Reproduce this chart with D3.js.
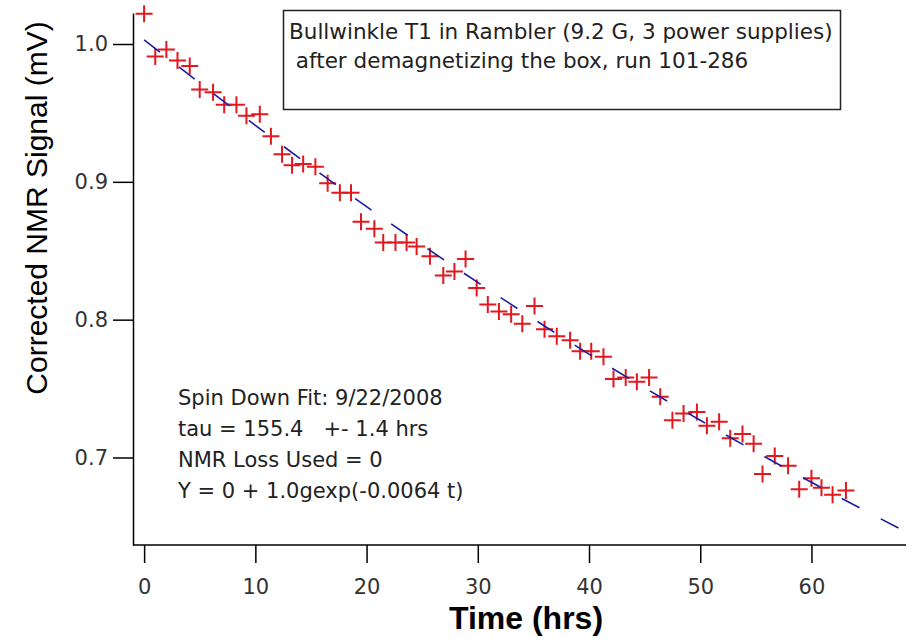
<!DOCTYPE html>
<html>
<head>
<meta charset="utf-8">
<script src="https://cdn.jsdelivr.net/npm/d3@7"></script>
<style>
  body { margin: 0; background: #fff; }
  svg { display: block; font-family: Arial, "Liberation Sans", sans-serif; }
  .axis path, .axis line { stroke: #000; stroke-width: 1.5px; }
  .axis text { font-size: 21px; fill: #333; font-family: "DejaVu Sans", sans-serif; }
  .note { font-family: "DejaVu Sans", sans-serif; fill: #222; white-space: pre; }
</style>
</head>
<body>
<div id="chart"></div>
<script>
// measured points (time in hrs, signal in mV)
var timeHrs = [0.0, 1.0, 2.0, 3.0, 4.1, 5.0, 6.2, 7.2, 8.3, 9.2,
    10.4, 11.4, 12.4, 13.3, 14.3, 15.4, 16.5, 17.6, 18.6, 19.5,
    20.7, 21.5, 22.6, 23.6, 24.5, 25.7, 26.9, 27.9, 28.9, 29.9,
    30.9, 31.9, 33.0, 34.0, 35.1, 36.0, 37.1, 38.3, 39.2, 40.2,
    41.3, 42.2, 43.3, 44.3, 45.4, 46.4, 47.5, 48.5, 49.7, 50.6,
    51.7, 52.7, 53.8, 54.8, 55.6, 56.7, 57.9, 58.9, 60.0, 60.9,
    61.9, 63.1];
var signal = [1.022, 0.991, 0.996, 0.988, 0.984, 0.967, 0.965, 0.956, 0.956, 0.948,
    0.949, 0.933, 0.920, 0.912, 0.913, 0.911, 0.899, 0.892, 0.892, 0.871,
    0.866, 0.856, 0.856, 0.856, 0.853, 0.846, 0.832, 0.835, 0.844, 0.823,
    0.811, 0.806, 0.804, 0.797, 0.810, 0.793, 0.788, 0.785, 0.777, 0.777,
    0.773, 0.757, 0.758, 0.755, 0.758, 0.744, 0.727, 0.732, 0.733, 0.723,
    0.726, 0.714, 0.717, 0.710, 0.688, 0.701, 0.694, 0.677, 0.685, 0.678,
    0.673, 0.676];

// fit curve
var fitTime = [0, 10, 20, 30, 40, 50, 60, 68.5];
var fitSignal = [1.003, 0.941, 0.882, 0.827, 0.775, 0.727, 0.682, 0.646];

var xTicks = [0, 10, 20, 30, 40, 50, 60];
var yTicks = [0.7, 0.8, 0.9, 1.0];

var titleLines = ["Bullwinkle T1 in Rambler (9.2 G, 3 power supplies)",
    " after demagnetizing the box, run 101-286"];
var fitLines = ["Spin Down Fit: 9/22/2008",
    "tau = 155.4   +- 1.4 hrs",
    "NMR Loss Used = 0",
    "Y = 0 + 1.0gexp(-0.0064 t)"];

var width = 913, height = 638;
var svg, xScale, yScale;

function createBase() {
    svg = d3.select("#chart").append("svg")
        .attr("width", width)
        .attr("height", height);
    xScale = d3.scaleLinear().domain([-1, 68.5]).range([133, 906]);
    yScale = d3.scaleLinear().domain([0.6365, 1.0225]).range([545, 13]);
}

function drawAxes() {
    // x axis
    var xAxis = svg.append("g")
        .attr("class", "axis")
        .attr("transform", "translate(0,545)")
        .call(d3.axisBottom(xScale).tickValues(xTicks).tickSize(18).tickPadding(16).tickSizeOuter(0));
    xAxis.select(".domain").attr("d", "M133,0H906");

    // y axis
    svg.append("g")
        .attr("class", "axis")
        .attr("transform", "translate(133,0)")
        .call(d3.axisLeft(yScale).tickValues(yTicks).tickFormat(d3.format(".1f"))
            .tickSize(20).tickPadding(5).tickSizeOuter(0));

    // axis titles
    svg.append("text")
        .attr("transform", "translate(47,208) rotate(-90)")
        .attr("text-anchor", "middle")
        .style("font-size", "30px")
        .text("Corrected NMR Signal (mV)");

    svg.append("text")
        .attr("x", 526)
        .attr("y", 629)
        .attr("text-anchor", "middle")
        .style("font-size", "32px")
        .style("font-weight", "bold")
        .text("Time (hrs)");
}

function drawPoints() {
    var pts = timeHrs.map(function (t, i) { return { t: t, v: signal[i] }; });
    svg.append("g").selectAll("path")
        .data(pts)
        .enter().append("path")
        .attr("transform", function (d) { return "translate(" + xScale(d.t) + "," + yScale(d.v) + ")"; })
        .attr("d", "M-8.5,0H8.5M0,-8.5V8.5")
        .attr("stroke", "#e3171e")
        .attr("stroke-width", 2)
        .attr("fill", "none");
}

function drawFit() {
    var fit = fitTime.map(function (t, i) { return { t: t, v: fitSignal[i] }; });
    svg.append("path")
        .datum(fit)
        .attr("fill", "none")
        .attr("stroke", "#1c1ca0")
        .attr("stroke-width", 1.6)
        .attr("stroke-dasharray", "20,24")
        .attr("d", d3.line()
            .curve(d3.curveMonotoneX)
            .x(function (d) { return xScale(d.t); })
            .y(function (d) { return yScale(d.v); }));
}

function drawNotes() {
    // annotation box at the top
    svg.append("rect")
        .attr("x", 283.5).attr("y", 10.5)
        .attr("width", 557).attr("height", 99)
        .attr("fill", "#fff")
        .attr("stroke", "#222")
        .attr("stroke-width", 1.5);

    svg.append("g").selectAll("text")
        .data(titleLines)
        .enter().append("text")
        .attr("class", "note")
        .attr("x", 289)
        .attr("y", function (d, i) { return 39 + i * 29; })
        .style("font-size", "21.5px")
        .text(function (d) { return d; });

    // fit results, lower left
    svg.append("g").selectAll("text")
        .data(fitLines)
        .enter().append("text")
        .attr("class", "note")
        .attr("x", 178)
        .attr("y", function (d, i) { return 405 + i * 31; })
        .style("font-size", "21px")
        .text(function (d) { return d; });
}

createBase();
drawAxes();
drawPoints();
drawFit();
drawNotes();
</script>
</body>
</html>
